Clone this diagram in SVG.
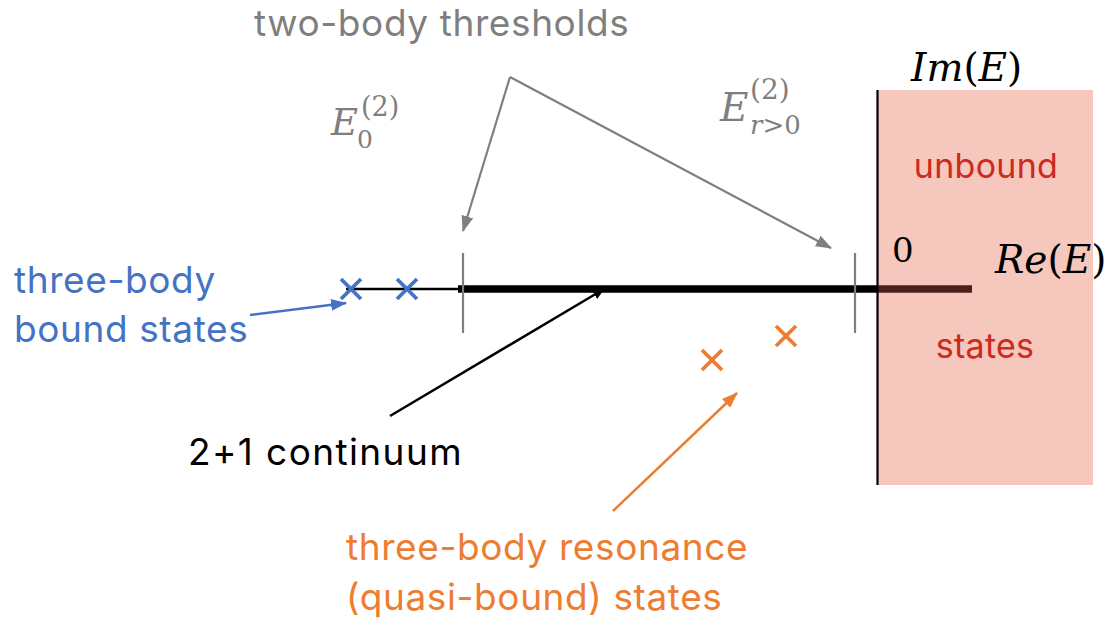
<svg xmlns="http://www.w3.org/2000/svg" width="1109" height="620" viewBox="0 0 1109 620">
<defs>
<style>
.sans{font-family:Inter,"Liberation Sans",sans-serif;font-size:37px;letter-spacing:0.6px;}
.math{font-family:"DejaVu Serif","Liberation Serif",serif;}
.it{font-style:italic;}
.gray{fill:#7F7F7F;}
.blue{fill:#4472C4;}
.orange{fill:#ED7D31;}
.red{fill:#CC2A1E;}
.xb{stroke:#4472C4;stroke-width:3.8;fill:none;}
.xo{stroke:#ED7D31;stroke-width:3.8;fill:none;}
</style>
<marker id="ag" markerUnits="userSpaceOnUse" markerWidth="16" markerHeight="12" refX="15" refY="6" orient="auto"><path d="M0,0 L16,6 L0,12 Z" fill="#7F7F7F"/></marker>
<marker id="ab" markerUnits="userSpaceOnUse" markerWidth="16" markerHeight="12" refX="15" refY="6" orient="auto"><path d="M0,0 L16,6 L0,12 Z" fill="#4472C4"/></marker>
<marker id="ak" markerUnits="userSpaceOnUse" markerWidth="12" markerHeight="10" refX="11" refY="5" orient="auto"><path d="M0,0 L12,5 L0,10 Z" fill="#000"/></marker>
<marker id="ao" markerUnits="userSpaceOnUse" markerWidth="16" markerHeight="12" refX="15" refY="6" orient="auto"><path d="M0,0 L16,6 L0,12 Z" fill="#ED7D31"/></marker>
</defs>
<rect width="1109" height="620" fill="#fff"/>
<g id="unbound-region">
<rect x="878" y="90" width="215" height="395" fill="#F6C7BC"/>
<text class="sans red" x="986" y="178" style="font-size:34px;letter-spacing:0.3px" text-anchor="middle">unbound</text>
<text class="sans red" x="985" y="358" style="font-size:34px;letter-spacing:0.3px" text-anchor="middle">states</text>
</g>
<g id="axes">
<line x1="346" y1="289" x2="460" y2="289" stroke="#000" stroke-width="2.5"/>
<line x1="458" y1="289" x2="878" y2="289" stroke="#000" stroke-width="7.5"/>
<line x1="878" y1="289" x2="972" y2="289" stroke="#4A201A" stroke-width="7.5"/>
<line x1="877.5" y1="90" x2="877.5" y2="485" stroke="#000" stroke-width="2.2"/>
<text class="math" x="892" y="262" font-size="34">0</text>
<text class="math" x="911" y="81" font-size="39"><tspan class="it">Im</tspan>(<tspan class="it">E</tspan>)</text>
<text class="math" x="995" y="273" font-size="39"><tspan class="it">Re</tspan>(<tspan class="it">E</tspan>)</text>
</g>
<g id="thresholds">
<line x1="463" y1="253" x2="463" y2="333" stroke="#7F7F7F" stroke-width="2.2"/>
<line x1="855" y1="253" x2="855" y2="333" stroke="#7F7F7F" stroke-width="2.2"/>
<text class="sans gray" x="254" y="36">two-body thresholds</text>
<text class="math gray" x="331" y="135" font-size="37"><tspan class="it">E</tspan></text>
<text class="math gray" x="361" y="116" font-size="27">(2)</text>
<text class="math gray" x="357" y="148" font-size="25">0</text>
<text class="math gray" x="720" y="121" font-size="39"><tspan class="it">E</tspan></text>
<text class="math gray" x="750" y="99" font-size="28">(2)</text>
<text class="math gray" x="750" y="134" font-size="26"><tspan class="it">r</tspan>&gt;0</text>
</g>
<g id="bound-states">
<path class="xb" d="M341,279 L361,299 M361,279 L341,299"/>
<path class="xb" d="M397,279 L417,299 M417,279 L397,299"/>
<text class="sans blue" x="14" y="293">three-body</text>
<text class="sans blue" x="14" y="342">bound states</text>
</g>
<g id="resonances">
<path class="xo" d="M702,350 L722,370 M722,350 L702,370"/>
<path class="xo" d="M776,326 L796,346 M796,326 L776,346"/>
<text class="sans orange" x="346" y="560">three-body resonance</text>
<text class="sans orange" x="346" y="610">(quasi-bound) states</text>
</g>
<g id="continuum">
<text class="sans" x="188" y="465" fill="#000" style="letter-spacing:1.4px">2+1 continuum</text>
</g>
<g id="connectors" fill="none">
<line x1="510" y1="77" x2="463" y2="231" stroke="#7F7F7F" stroke-width="2.2" marker-end="url(#ag)"/>
<line x1="510" y1="77" x2="831" y2="248" stroke="#7F7F7F" stroke-width="2.2" marker-end="url(#ag)"/>
<line x1="250" y1="315" x2="346" y2="303" stroke="#4472C4" stroke-width="2.5" marker-end="url(#ab)"/>
<line x1="390" y1="416" x2="604" y2="289" stroke="#000" stroke-width="2.5" marker-end="url(#ak)"/>
<line x1="613" y1="511" x2="737" y2="393" stroke="#ED7D31" stroke-width="2.5" marker-end="url(#ao)"/>
</g>
</svg>
